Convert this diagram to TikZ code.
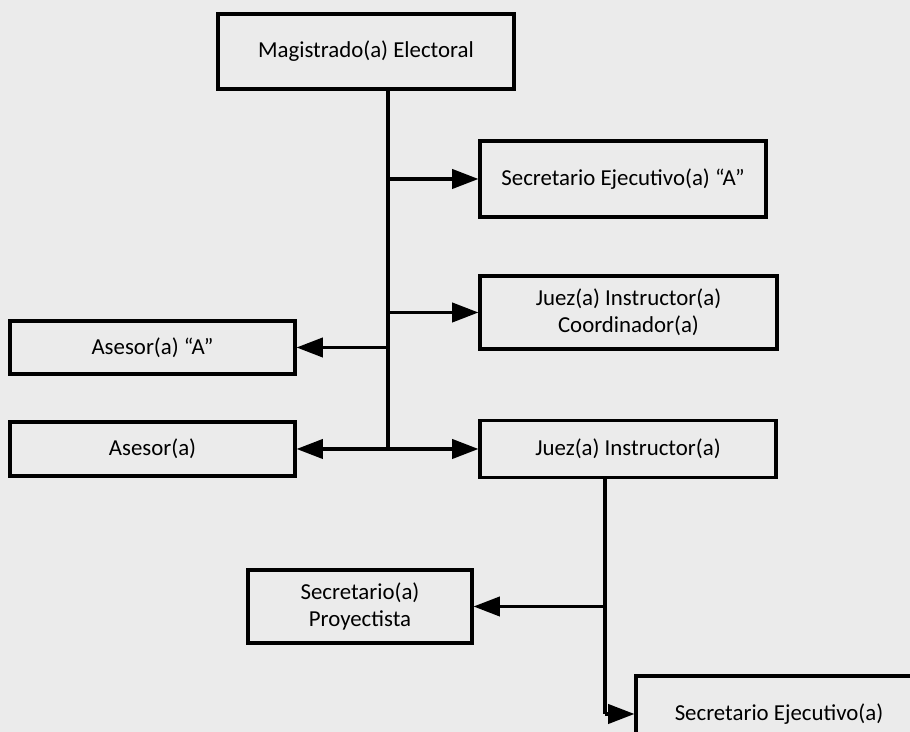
\documentclass[tikz,border=0pt]{standalone}
\usepackage{fontspec}
\setmainfont{Carlito}
\usepackage{tikz}
\usetikzlibrary{arrows.meta}

\begin{document}
\begin{tikzpicture}[
    caja/.style={draw, line width=1.8pt, align=center, inner sep=2pt,
      font=\fontsize{13}{15.5}\selectfont},
    linea/.style={line width=1.8pt},
    flecha/.style={linea, -{Triangle[length=15pt, width=11pt]}}
  ]
      \clip (0,0) rectangle (18.2,14.64);
      \fill[black!8] (0,0) rectangle (18.2,14.64);

      \node[caja, minimum width=5.92cm, minimum height=1.5cm] (mag) at (7.32,13.61) {Magistrado(a) Electoral};
      \node[caja, minimum width=5.72cm, minimum height=1.52cm] (secA) at (12.46,11.06) {Secretario Ejecutivo(a) ``A''};
      \node[caja, minimum width=5.94cm, minimum height=1.46cm] (juezc) at (12.57,8.39) {Juez(a) Instructor(a)\\ Coordinador(a)};
      \node[caja, minimum width=5.7cm, minimum height=1.06cm] (aseA) at (3.05,7.69) {Asesor(a) ``A''};
      \node[caja, minimum width=5.7cm, minimum height=1.08cm] (ase) at (3.05,5.66) {Asesor(a)};
      \node[caja, minimum width=5.92cm, minimum height=1.14cm] (juez) at (12.56,5.66) {Juez(a) Instructor(a)};
      \node[caja, minimum width=4.48cm, minimum height=1.46cm] (proy) at (7.2,2.51) {Secretario(a)\\ Proyectista};
      \node[caja, minimum width=5.72cm, minimum height=1.52cm] (secE) at (15.58,0.36) {Secretario Ejecutivo(a)};

      % tronco del magistrado
      \coordinate (t) at (7.76,0);
      \draw[linea] (t |- mag.south) -- (t |- ase.east);
      \draw[flecha] (t |- secA.west) -- (secA.west);
      \draw[flecha] (t |- juezc.west) -- (juezc.west);
      \draw[flecha] (t |- aseA.east) -- (aseA.east);
      \draw[flecha] (t |- ase.east) -- (ase.east);
      \draw[flecha] (t |- juez.west) -- (juez.west);

      % tronco del juez instructor
      \coordinate (u) at (12.1,0);
      \draw[linea] (u |- juez.south) -- (u |- secE.west);
      \draw[flecha] (u |- proy.east) -- (proy.east);
      \draw[flecha] (u |- secE.west) -- (secE.west);
    \end{tikzpicture}
\end{document}
